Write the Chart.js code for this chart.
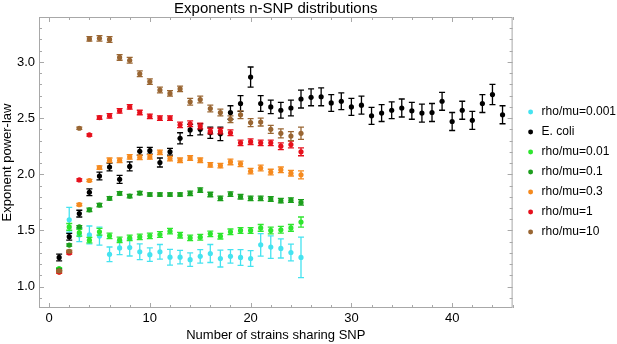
<!DOCTYPE html>
<html>
<head>
<meta charset="utf-8">
<script src="https://cdn.jsdelivr.net/npm/chart.js@4.4.1/dist/chart.umd.min.js"></script>
<style>
  html, body { margin: 0; padding: 0; background: #fff; }
</style>
</head>
<body>
<canvas id="chart" width="617" height="344"></canvas>
<script>
// x positions
const simX = [1, 2, 3, 4, 5, 6, 7, 8, 9, 10, 11, 12, 13, 14, 15, 16, 17, 18, 19, 20, 21, 22, 23, 24, 25];
const ecoliX = [1, 2, 3, 4, 5, 6, 7, 8, 9, 10, 11, 12, 13, 14, 15, 16, 17, 18, 19, 20, 21, 22, 23,
    24, 25, 26, 27, 28, 29, 30, 31, 32, 33, 34, 35, 36, 37, 38, 39, 40, 41, 42, 43, 44, 45];

// values, with error half-widths
const rho0001 = [1.15, 1.595, 1.46, 1.46, 1.45, 1.288, 1.345, 1.348, 1.31, 1.285, 1.31, 1.262, 1.262,
    1.24, 1.27, 1.295, 1.25, 1.27, 1.26, 1.25, 1.372, 1.352, 1.34, 1.304, 1.26];
const rho0001Err = [0.01, 0.11, 0.06, 0.08, 0.08, 0.065, 0.06, 0.075, 0.07, 0.06, 0.065, 0.07, 0.06,
    0.06, 0.06, 0.08, 0.075, 0.06, 0.07, 0.07, 0.1, 0.1, 0.085, 0.075, 0.18];

const ecoli = [1.26, 1.445, 1.65, 1.84, 1.985, 2.065, 1.955, 2.07, 2.205, 2.21, 2.105, 2.20, 2.32,
    2.395, 2.40, 2.37, 2.36, 2.55, 2.63, 2.865, 2.63, 2.60, 2.57, 2.59, 2.67, 2.685, 2.69, 2.635,
    2.65, 2.60, 2.615, 2.52, 2.545, 2.57, 2.59, 2.565, 2.545, 2.55, 2.65, 2.47, 2.57, 2.48, 2.63,
    2.71, 2.53];
const ecoliErr = [0.03, 0.03, 0.03, 0.03, 0.035, 0.035, 0.035, 0.04, 0.035, 0.03, 0.04, 0.03, 0.05,
    0.05, 0.05, 0.05, 0.06, 0.06, 0.07, 0.09, 0.07, 0.06, 0.07, 0.07, 0.08, 0.075, 0.08, 0.075,
    0.075, 0.075, 0.08, 0.075, 0.075, 0.075, 0.08, 0.075, 0.08, 0.08, 0.08, 0.08, 0.08, 0.08, 0.08,
    0.09, 0.08];

const rho001 = [1.16, 1.532, 1.48, 1.414, 1.488, 1.452, 1.416, 1.434, 1.443, 1.452, 1.464, 1.494,
    1.458, 1.434, 1.44, 1.47, 1.449, 1.488, 1.50, 1.50, 1.523, 1.50, 1.506, 1.523, 1.575];
const rho001Err = [0.01, 0.03, 0.03, 0.025, 0.03, 0.025, 0.025, 0.025, 0.025, 0.025, 0.025, 0.025,
    0.025, 0.025, 0.025, 0.025, 0.025, 0.025, 0.025, 0.025, 0.03, 0.03, 0.03, 0.03, 0.045];

const rho01 = [1.15, 1.37, 1.533, 1.684, 1.726, 1.786, 1.83, 1.806, 1.833, 1.82, 1.82, 1.82, 1.82,
    1.83, 1.86, 1.82, 1.786, 1.824, 1.80, 1.786, 1.786, 1.78, 1.765, 1.77, 1.75];
const rho01Err = [0.01, 0.01, 0.01, 0.015, 0.015, 0.015, 0.015, 0.015, 0.015, 0.015, 0.015, 0.015,
    0.015, 0.02, 0.02, 0.02, 0.02, 0.02, 0.02, 0.02, 0.02, 0.02, 0.02, 0.02, 0.025];

const rho03 = [1.13, 1.31, 1.73, 1.945, 2.06, 2.125, 2.125, 2.155, 2.15, 2.155, 2.195, 2.14, 2.125,
    2.145, 2.125, 2.083, 2.078, 2.11, 2.093, 2.028, 2.056, 2.02, 2.04, 2.01, 1.995];
const rho03Err = [0.01, 0.01, 0.01, 0.01, 0.015, 0.02, 0.02, 0.02, 0.02, 0.02, 0.02, 0.02, 0.02,
    0.02, 0.02, 0.02, 0.02, 0.025, 0.025, 0.025, 0.025, 0.025, 0.025, 0.025, 0.035];

const rho1 = [1.13, 1.30, 1.95, 2.35, 2.505, 2.52, 2.565, 2.60, 2.55, 2.515, 2.50, 2.50, 2.44, 2.45,
    2.43, 2.385, 2.385, 2.37, 2.28, 2.29, 2.28, 2.28, 2.25, 2.265, 2.20];
const rho1Err = [0.01, 0.01, 0.01, 0.01, 0.015, 0.02, 0.02, 0.02, 0.02, 0.02, 0.02, 0.02, 0.025,
    0.025, 0.025, 0.025, 0.025, 0.025, 0.025, 0.025, 0.025, 0.025, 0.03, 0.03, 0.035];

const rho10 = [1.14, 1.315, 2.41, 3.205, 3.21, 3.20, 3.04, 3.015, 2.895, 2.825, 2.75, 2.72, 2.76,
    2.645, 2.665, 2.585, 2.55, 2.49, 2.53, 2.46, 2.465, 2.40, 2.365, 2.34, 2.365];
const rho10Err = [0.01, 0.01, 0.01, 0.02, 0.025, 0.025, 0.025, 0.025, 0.025, 0.025, 0.025, 0.025,
    0.025, 0.03, 0.03, 0.03, 0.03, 0.03, 0.035, 0.035, 0.035, 0.035, 0.04, 0.04, 0.055];

const xTicks = [0, 10, 20, 30, 40];
const yTicks = [1.0, 1.5, 2.0, 2.5, 3.0];

const FONT = '"Liberation Sans", Arial, Helvetica, sans-serif';

function points(xs, ys, errs) {
    return xs.map((x, i) => ({ x: x, y: ys[i], err: errs[i] }));
}

function series(label, xs, ys, errs, color, order) {
    return {
        label: label,
        data: points(xs, ys, errs),
        backgroundColor: color,
        borderColor: color,
        pointRadius: 2.6,
        pointHoverRadius: 2.6,
        pointBorderWidth: 0,
        showLine: false,
        order: order
    };
}

// error bars drawn right before each dataset's points
const errorBars = {
    id: 'errorBars',
    beforeDatasetDraw(chart, args) {
        const ds = chart.data.datasets[args.index];
        const y = chart.scales.y;
        const ctx = chart.ctx;
        ctx.save();
        ctx.strokeStyle = ds.borderColor;
        ctx.lineWidth = 1.3;
        args.meta.data.forEach((pt, i) => {
            const d = ds.data[i];
            const top = y.getPixelForValue(d.y + d.err);
            const bot = y.getPixelForValue(d.y - d.err);
            const cap = 3;
            ctx.beginPath();
            ctx.moveTo(pt.x, top);
            ctx.lineTo(pt.x, bot);
            ctx.moveTo(pt.x - cap, top);
            ctx.lineTo(pt.x + cap, top);
            ctx.moveTo(pt.x - cap, bot);
            ctx.lineTo(pt.x + cap, bot);
            ctx.stroke();
        });
        ctx.restore();
    }
};

// Mathematica-like frame with inward ticks on all four sides
const frame = {
    id: 'frame',
    beforeDatasetsDraw(chart) {
        const { ctx, chartArea: a, scales: { x, y } } = chart;
        ctx.save();
        ctx.strokeStyle = '#a8a8a8';
        ctx.lineWidth = 1;
        ctx.strokeRect(a.left + 0.5, a.top + 0.5, a.right - a.left - 1, a.bottom - a.top - 1);
        ctx.beginPath();
        for (let v = -1; v <= 46; v += 1) {
            if (v % 2 !== 0) continue;
            const px = Math.round(x.getPixelForValue(v)) + 0.5;
            const len = v % 10 === 0 ? 5 : 3;
            ctx.moveTo(px, a.bottom);
            ctx.lineTo(px, a.bottom - len);
            ctx.moveTo(px, a.top);
            ctx.lineTo(px, a.top + len);
        }
        for (let k = 9; k <= 33; k++) {
            const v = k / 10;
            const py = Math.round(y.getPixelForValue(v)) + 0.5;
            const len = k % 5 === 0 ? 5 : 3;
            ctx.moveTo(a.left, py);
            ctx.lineTo(a.left + len, py);
            ctx.moveTo(a.right, py);
            ctx.lineTo(a.right - len, py);
        }
        ctx.stroke();
        ctx.restore();
    }
};

// push the legend column a few pixels away from the frame
const legendNudge = {
    id: 'legendNudge',
    afterLayout(chart) {
        if (!chart.legend) return;
        chart.legend.left += 5;
        chart.legend.right += 5;
    }
};

new Chart(document.getElementById('chart'), {
    type: 'scatter',
    data: {
        datasets: [
            series('rho/mu=0.001', simX, rho0001, rho0001Err, '#45e3f0', 6),
            series('E. coli', ecoliX, ecoli, ecoliErr, '#000000', 5),
            series('rho/mu=0.01', simX, rho001, rho001Err, '#2ee62e', 4),
            series('rho/mu=0.1', simX, rho01, rho01Err, '#1c9e1c', 3),
            series('rho/mu=0.3', simX, rho03, rho03Err, '#f58a1f', 2),
            series('rho/mu=1', simX, rho1, rho1Err, '#e6101c', 1),
            series('rho/mu=10', simX, rho10, rho10Err, '#996633', 0)
        ]
    },
    options: {
        responsive: false,
        animation: false,
        layout: { padding: { right: -4 } },
        plugins: {
            tooltip: { enabled: false },
            title: {
                display: true,
                text: 'Exponents n-SNP distributions',
                fullSize: false,
                color: '#000',
                font: { family: FONT, size: 15, weight: 'normal', lineHeight: 1 },
                padding: { top: 1, bottom: 1 }
            },
            legend: {
                position: 'right',
                align: 'center',
                labels: {
                    usePointStyle: true,
                    pointStyle: 'circle',
                    boxWidth: 10,
                    boxHeight: 3.5,
                    padding: 8,
                    color: '#000',
                    font: { family: FONT, size: 12 },
                    sort: (a, b) => a.datasetIndex - b.datasetIndex
                }
            }
        },
        scales: {
            x: {
                type: 'linear',
                min: -1,
                max: 46,
                afterFit(scale) { scale.height = 36; },
                afterBuildTicks(scale) { scale.ticks = xTicks.map(v => ({ value: v })); },
                grid: { display: false, drawTicks: false },
                border: { display: false },
                ticks: { color: '#000', padding: 3, font: { family: FONT, size: 13 } },
                title: {
                    display: true,
                    text: 'Number of strains sharing SNP',
                    color: '#000',
                    font: { family: FONT, size: 13 },
                    padding: { top: 0, bottom: 1 }
                }
            },
            y: {
                type: 'linear',
                min: 0.81,
                max: 3.4,
                afterFit(scale) { scale.width = 39; },
                afterBuildTicks(scale) { scale.ticks = yTicks.map(v => ({ value: v })); },
                grid: { display: false, drawTicks: false },
                border: { display: false },
                ticks: {
                    color: '#000',
                    padding: 4,
                    font: { family: FONT, size: 13 },
                    callback: v => v.toFixed(1)
                },
                title: {
                    display: true,
                    text: 'Exponent power-law',
                    color: '#000',
                    font: { family: FONT, size: 13 },
                    padding: { top: 0, bottom: 0 }
                }
            }
        }
    },
    plugins: [frame, errorBars, legendNudge]
});
</script>
</body>
</html>
